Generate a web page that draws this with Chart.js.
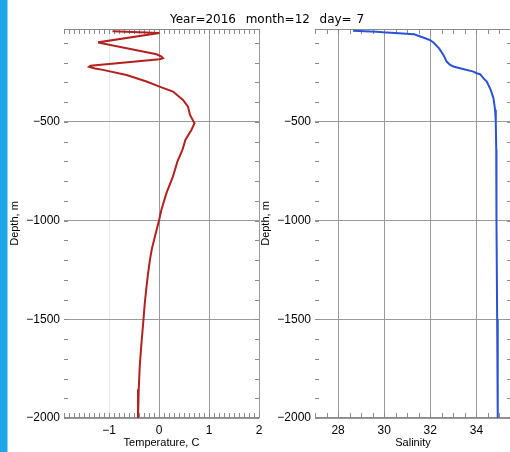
<!DOCTYPE html>
<html>
<head>
<meta charset="utf-8">
<script src="https://cdn.jsdelivr.net/npm/chart.js@4.4.1/dist/chart.umd.min.js"></script>
<style>
  html, body { margin: 0; padding: 0; width: 510px; height: 452px; overflow: hidden; background: #fff; }
  #bar { position: absolute; left: 0; top: 0; width: 7px; height: 452px; background: #1aa6e8; border-right: 1px solid #8fd2f2; }
  #title { position: absolute; left: 170px; top: 12px; font: 12px "DejaVu Sans", sans-serif; line-height: 14px; white-space: pre; word-spacing: 1px; color: #000; }
  .panel { position: absolute; top: 0; height: 452px; width: 262px; }
  #tempBox { left: 0; }
  #salBox { left: 250px; }
</style>
</head>
<body>
<div id="bar"></div>
<div id="tempBox" class="panel"><canvas id="tempChart"></canvas></div>
<div id="salBox" class="panel"><canvas id="salChart"></canvas></div>
<div id="title">Year=2016  month=12  day= 7</div>
<script>
// Profile data: depth (m, negative downward) and measured values
const tempDepth = [-42, -50, -97, -99, -158, -170, -178, -183, -216, -222, -230, -237, -263, -296, -322, -347, -389, -423, -465, -507, -540, -591, -641, -700, -776, -860, -944, -1000, -1079, -1140, -1197, -1270, -1348, -1420, -1500, -1618, -1736, -1854, -2000];
const tempValues = [-0.93, 0.01, -1.20, -1.20, -0.05, 0.05, 0.08, 0.01, -1.37, -1.40, -1.28, -1.12, -0.65, -0.25, 0.01, 0.28, 0.48, 0.58, 0.62, 0.71, 0.65, 0.53, 0.47, 0.37, 0.28, 0.15, 0.05, 0.0, -0.08, -0.14, -0.18, -0.22, -0.255, -0.285, -0.31, -0.35, -0.385, -0.405, -0.42];

const salDepth = [-39, -44, -47, -57, -69, -86, -100, -128, -162, -195, -212, -220, -229, -246, -254, -259, -279, -296, -338, -380, -439, -498, -641, -1000, -1500, -1850, -2000];
const salValues = [28.65, 29.67, 29.96, 31.3, 31.6, 31.99, 32.15, 32.38, 32.57, 32.71, 32.86, 33.0, 33.29, 33.87, 34.01, 34.16, 34.3, 34.45, 34.62, 34.74, 34.81, 34.84, 34.86, 34.87, 34.90, 34.92, 34.93];

// Axis ticks
const depthTicks = [-2000, -1500, -1000, -500];
const tempTicks = [-1, 0, 1, 2];
const salTicks = [28, 30, 32, 34];

const fmt = v => (v < 0 ? '\u2212' : '') + Math.abs(v);
const toPoints = (xs, ys) => xs.map((v, i) => ({ x: v, y: ys[i] }));

// Small inward tick marks around the plot box
const minorTicks = {
  id: 'minorTicks',
  beforeDatasetsDraw(chart, args, o) {
    const { ctx, chartArea: a, scales: { x, y } } = chart;
    ctx.save();
    ctx.strokeStyle = o.color;
    ctx.lineWidth = 1;
    ctx.beginPath();
    for (let k = Math.ceil(x.min / o.xStep - 1e-9); k <= Math.floor(x.max / o.xStep + 1e-9); k++) {
      const px = Math.round(x.getPixelForValue(k * o.xStep)) + 0.5;
      ctx.moveTo(px, a.bottom); ctx.lineTo(px, a.bottom - o.xLen);
      ctx.moveTo(px, a.top); ctx.lineTo(px, a.top + o.xLen);
    }
    for (let k = Math.ceil(y.min / o.yStep - 1e-9); k <= Math.floor(y.max / o.yStep + 1e-9); k++) {
      const py = Math.round(y.getPixelForValue(k * o.yStep)) + 0.5;
      ctx.moveTo(a.left, py); ctx.lineTo(a.left + o.yLen, py);
      ctx.moveTo(a.right, py); ctx.lineTo(a.right - o.yLen, py);
    }
    ctx.stroke();
    // top and bottom axis lines
    ctx.strokeStyle = o.frame;
    ctx.beginPath();
    const t = Math.round(a.top) + 0.5, b = Math.round(a.bottom) - 0.5;
    ctx.moveTo(a.left, t); ctx.lineTo(a.right, t);
    ctx.moveTo(a.left, b); ctx.lineTo(a.right, b);
    ctx.stroke();
    ctx.restore();
  }
};

const tickFont = { family: '"Liberation Sans", Arial, sans-serif', size: 12 };
const titleFont = { family: '"Liberation Sans", Arial, sans-serif', size: 11 };

function makeChart(id, cfg) {
  return new Chart(document.getElementById(id), {
    type: 'scatter',
    data: {
      datasets: [{
        data: cfg.points,
        showLine: true,
        borderColor: cfg.color,
        borderWidth: 2,
        pointRadius: 0,
        tension: 0
      }]
    },
    options: {
      responsive: false,
      animation: false,
      events: [],
      layout: { padding: { top: 29, right: cfg.padRight, left: 0, bottom: 0 } },
      plugins: {
        legend: { display: false },
        tooltip: { enabled: false },
        minorTicks: { xStep: cfg.xStep, yStep: 100, xLen: 5, yLen: 4, color: '#8a8a8a', frame: '#8a8a8a' }
      },
      scales: {
        x: {
          type: 'linear',
          min: cfg.xMin,
          max: cfg.xMax,
          afterBuildTicks: s => { s.ticks = cfg.xTicks.map(v => ({ value: v })); },
          afterFit: s => { s.height = 34; s.paddingLeft = 0; s.paddingRight = 0; },
          grid: {
            drawTicks: false,
            lineWidth: 1,
            color: c => (c.tick && cfg.faint.includes(c.tick.value)) ? '#e8e8e8' : '#9a9a9a'
          },
          border: { display: false },
          ticks: { padding: 5, color: '#000', font: tickFont, maxRotation: 0, autoSkip: false, callback: v => fmt(v) },
          title: { display: true, text: cfg.xTitle, color: '#000', font: titleFont, padding: { top: 0, bottom: 2 } }
        },
        y: {
          type: 'linear',
          min: -2000,
          max: -30,
          afterBuildTicks: s => { s.ticks = depthTicks.map(v => ({ value: v })); },
          afterFit: s => { s.width = cfg.yWidth; s.paddingTop = 0; s.paddingBottom = 0; },
          grid: { drawTicks: false, lineWidth: 1, color: '#9a9a9a' },
          border: { display: false },
          ticks: { padding: 4, color: '#000', font: tickFont, autoSkip: false, callback: v => fmt(v) },
          title: { display: true, text: 'Depth, m', color: '#000', font: titleFont, padding: { top: cfg.yTitlePad, bottom: 0 } }
        }
      }
    },
    plugins: [minorTicks]
  });
}

function sizeCanvas(id) {
  const c = document.getElementById(id);
  c.width = 262; c.height = 452;
  c.style.width = '262px'; c.style.height = '452px';
}
sizeCanvas('tempChart');
sizeCanvas('salChart');

makeChart('tempChart', {
  points: toPoints(tempValues, tempDepth),
  color: '#b3211e',
  xMin: -1.9, xMax: 2, xTicks: tempTicks, faint: [-1], xStep: 0.1,
  xTitle: 'Temperature, C', yWidth: 64, yTitlePad: 8, padRight: 3
});

makeChart('salChart', {
  points: toPoints(salValues, salDepth),
  color: '#2a52d6',
  xMin: 27, xMax: 35.5, xTicks: salTicks, faint: [], xStep: 0.5,
  xTitle: 'Salinity', yWidth: 65, yTitlePad: 9, padRight: 1
});
</script>
</body>
</html>
